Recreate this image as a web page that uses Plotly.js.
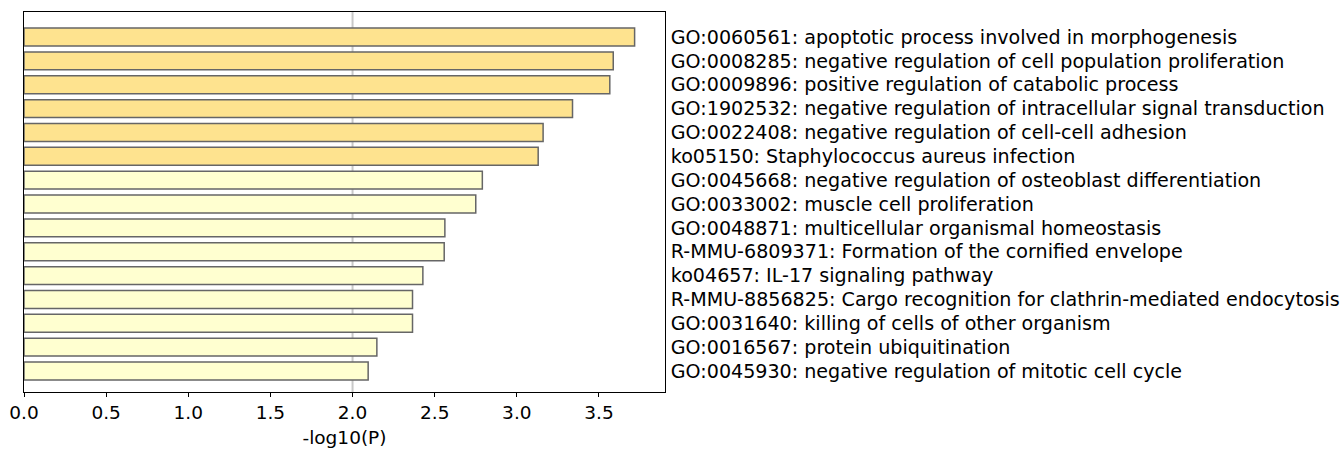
<!DOCTYPE html>
<html><head><meta charset="utf-8">
<script src="https://cdn.plot.ly/plotly-3.0.1.min.js"></script>
<style>body{margin:0;background:#fff}#chart{width:1343px;height:453px}</style>
</head><body><div id="chart"></div>
<script>
const terms = [
  "GO:0060561: apoptotic process involved in morphogenesis",
  "GO:0008285: negative regulation of cell population proliferation",
  "GO:0009896: positive regulation of catabolic process",
  "GO:1902532: negative regulation of intracellular signal transduction",
  "GO:0022408: negative regulation of cell-cell adhesion",
  "ko05150: Staphylococcus aureus infection",
  "GO:0045668: negative regulation of osteoblast differentiation",
  "GO:0033002: muscle cell proliferation",
  "GO:0048871: multicellular organismal homeostasis",
  "R-MMU-6809371: Formation of the cornified envelope",
  "ko04657: IL-17 signaling pathway",
  "R-MMU-8856825: Cargo recognition for clathrin-mediated endocytosis",
  "GO:0031640: killing of cells of other organism",
  "GO:0016567: protein ubiquitination",
  "GO:0045930: negative regulation of mitotic cell cycle"
];
const logP = [3.717, 3.587, 3.566, 3.339, 3.16, 3.13, 2.79, 2.75, 2.562, 2.558, 2.428, 2.365, 2.365, 2.148, 2.095];
const strong = [true, true, true, true, true, true, false, false, false, false, false, false, false, false, false];
const xTicks = [0, 0.5, 1.0, 1.5, 2.0, 2.5, 3.0, 3.5];
const threshold = 2.0;

const font = {family: "DejaVu Sans", size: 18.5, color: "#000"};
const labelFont = {family: "DejaVu Sans", size: 19.1, color: "#000"};
const trace = {
  type: "bar", orientation: "h",
  x: logP, y: terms,
  width: 0.75,
  marker: {color: strong.map(s => s ? "#FEE38F" : "#FFFFD0"), line: {color: "#666666", width: 1.5}},
  hoverinfo: "x+y"
};
const layout = {
  width: 1343, height: 453,
  margin: {l: 24, r: 678, t: 12, b: 61},
  paper_bgcolor: "#fff", plot_bgcolor: "#fff",
  font: font,
  showlegend: false,
  xaxis: {
    range: [0, 3.902], tickvals: xTicks, ticktext: xTicks.map(v => v.toFixed(1)),
    ticks: "outside", ticklen: 4, tickcolor: "#000", showgrid: false, zeroline: false,
    showline: true, linecolor: "#000", linewidth: 1, mirror: true,
    title: {text: "-log10(P)", font: font, standoff: 8}, tickfont: font
  },
  yaxis: {
    type: "category", side: "right", autorange: false, range: [14.88, -1.05],
    ticks: "outside", ticklen: 0, tickcolor: "#fff", showgrid: false, zeroline: false,
    showline: true, linecolor: "#000", linewidth: 1, mirror: true,
    tickfont: labelFont, ticklabelstandoff: 1
  },
  shapes: [{type: "line", layer: "below", xref: "x", yref: "paper", x0: threshold, x1: threshold, y0: 0, y1: 1,
    line: {color: "#c8c8c8", width: 2}}]
};
Plotly.newPlot("chart", [trace], layout, {displayModeBar: false, staticPlot: true});
</script></body></html>
